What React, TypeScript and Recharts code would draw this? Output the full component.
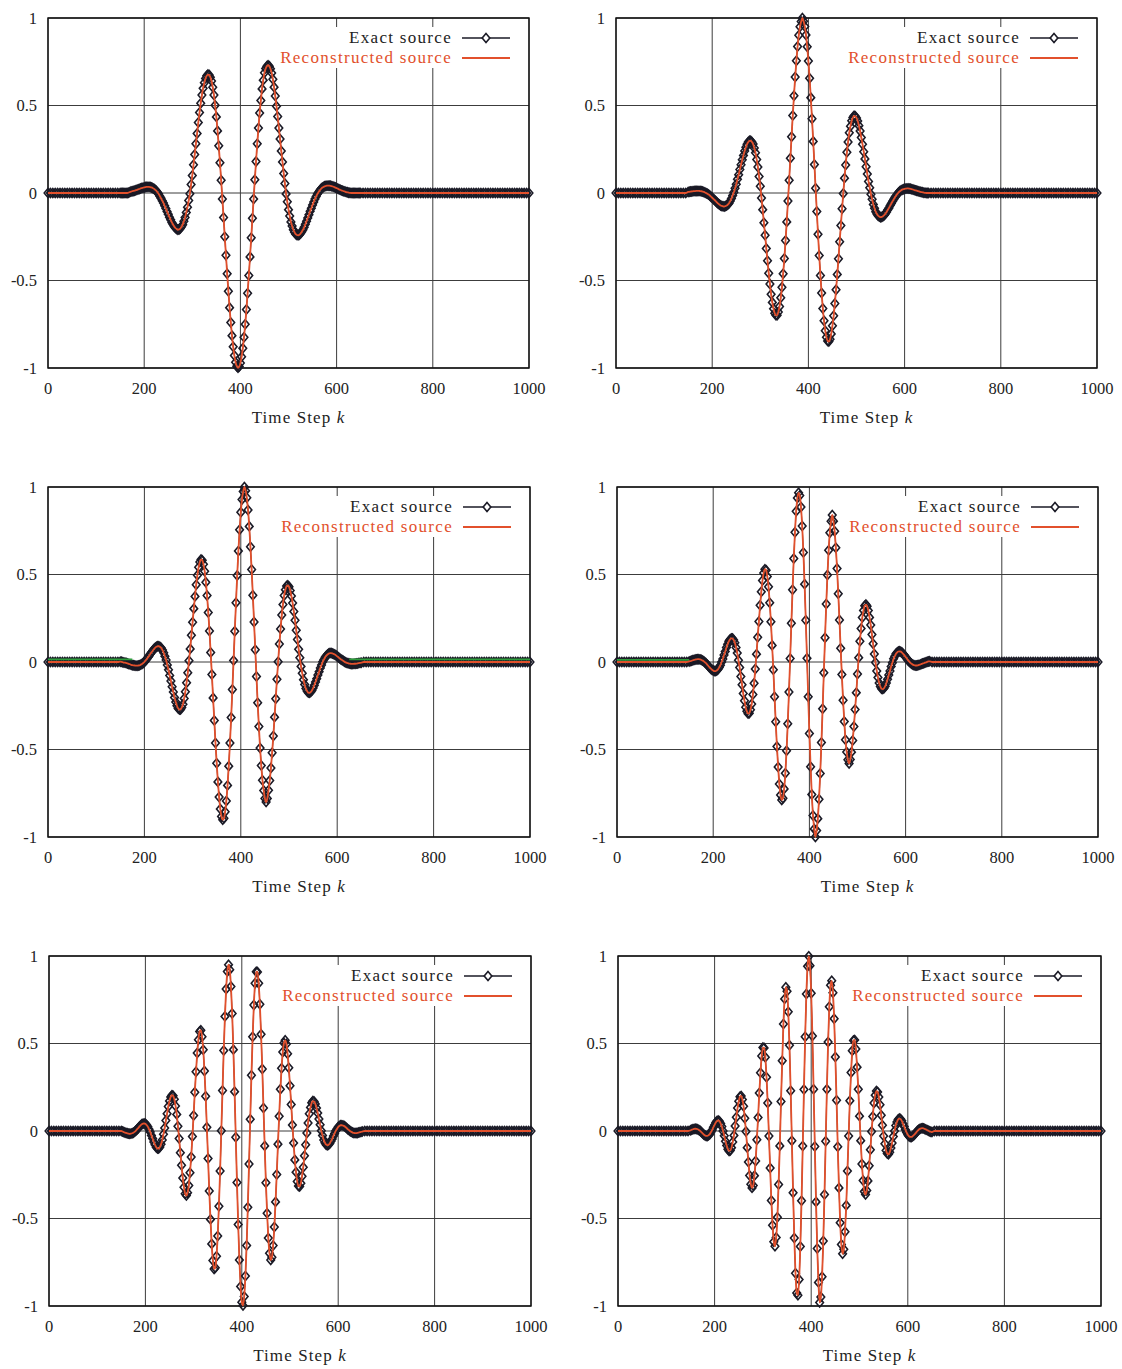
import {
  CartesianGrid,
  Line,
  LineChart,
  ReferenceArea,
  XAxis,
  YAxis,
} from "recharts";

const xTicks = [0, 200, 400, 600, 800, 1000];
const yTicks = [-1, -0.5, 0, 0.5, 1];

// flat stretches, sampled every 5 steps: k = 0 .. 145 and k = 655 .. 1000
const quietBefore = [
  0, 0, 0, 0, 0, 0, 0, 0, 0, 0,
  0, 0, 0, 0, 0, 0, 0, 0, 0, 0,
  0, 0, 0, 0, 0, 0, 0, 0, 0, 0,
];
const quietAfter = [
  0, 0, 0, 0, 0, 0, 0, 0, 0, 0,
  0, 0, 0, 0, 0, 0, 0, 0, 0, 0,
  0, 0, 0, 0, 0, 0, 0, 0, 0, 0,
  0, 0, 0, 0, 0, 0, 0, 0, 0, 0,
  0, 0, 0, 0, 0, 0, 0, 0, 0, 0,
  0, 0, 0, 0, 0, 0, 0, 0, 0, 0,
  0, 0, 0, 0, 0, 0, 0, 0, 0, 0,
];

// active part of each source, read every 2.5 steps: k = 150 .. 650
const wave1 = [
  0, 0, 0, 0, 0, 0, 0, 0.002, 0.005, 0.008,
  0.01, 0.012, 0.013, 0.016, 0.018, 0.021, 0.023, 0.026, 0.028, 0.03,
  0.032, 0.034, 0.035, 0.035, 0.035, 0.034, 0.032, 0.029, 0.025, 0.019,
  0.013, 0.004, -0.005, -0.018, -0.03, -0.044, -0.057, -0.073, -0.088, -0.106,
  -0.122, -0.138, -0.153, -0.168, -0.18, -0.191, -0.2, -0.206, -0.21, -0.208,
  -0.203, -0.193, -0.181, -0.162, -0.14, -0.111, -0.081, -0.043, -0.004, 0.048,
  0.1, 0.161, 0.22, 0.282, 0.34, 0.403, 0.46, 0.513, 0.56, 0.599,
  0.63, 0.655, 0.67, 0.677, 0.675, 0.662, 0.64, 0.604, 0.56, 0.501,
  0.435, 0.355, 0.27, 0.173, 0.073, -0.034, -0.14, -0.25, -0.356, -0.462,
  -0.561, -0.655, -0.74, -0.815, -0.878, -0.929, -0.967, -0.99, -0.999, -0.992,
  -0.972, -0.936, -0.887, -0.824, -0.75, -0.666, -0.573, -0.472, -0.365, -0.256,
  -0.144, -0.034, 0.076, 0.18, 0.281, 0.372, 0.457, 0.529, 0.595, 0.645,
  0.687, 0.711, 0.725, 0.73, 0.725, 0.71, 0.686, 0.65, 0.605, 0.554,
  0.496, 0.437, 0.372, 0.308, 0.24, 0.177, 0.112, 0.054, -0.005, -0.05,
  -0.095, -0.131, -0.165, -0.189, -0.21, -0.224, -0.235, -0.24, -0.242, -0.239,
  -0.232, -0.222, -0.21, -0.196, -0.179, -0.162, -0.143, -0.124, -0.104, -0.087,
  -0.068, -0.051, -0.034, -0.02, -0.006, 0.005, 0.015, 0.023, 0.03, 0.034,
  0.038, 0.04, 0.042, 0.042, 0.042, 0.041, 0.039, 0.037, 0.034, 0.031,
  0.028, 0.025, 0.021, 0.018, 0.015, 0.013, 0.01, 0.008, 0.005, 0.004,
  0.002, 0.001, 0, 0, 0, 0, 0, 0, 0, 0,
  0,
];

const wave2 = [
  0.006, 0.007, 0.008, 0.009, 0.01, 0.011, 0.011, 0.012, 0.012, 0.012,
  0.011, 0.01, 0.008, 0.006, 0.003, -0.001, -0.004, -0.009, -0.014, -0.021,
  -0.027, -0.034, -0.04, -0.047, -0.054, -0.061, -0.066, -0.071, -0.074, -0.076,
  -0.077, -0.075, -0.072, -0.066, -0.058, -0.046, -0.032, -0.014, 0.004, 0.027,
  0.05, 0.078, 0.104, 0.134, 0.161, 0.19, 0.215, 0.24, 0.261, 0.279,
  0.291, 0.298, 0.299, 0.292, 0.28, 0.257, 0.23, 0.191, 0.148, 0.094,
  0.038, -0.029, -0.095, -0.17, -0.241, -0.317, -0.387, -0.458, -0.52, -0.578,
  -0.625, -0.662, -0.687, -0.699, -0.698, -0.68, -0.648, -0.599, -0.539, -0.461,
  -0.374, -0.272, -0.165, -0.046, 0.073, 0.199, 0.321, 0.443, 0.556, 0.663,
  0.756, 0.837, 0.902, 0.95, 0.98, 1.0, 0.981, 0.951, 0.903, 0.836,
  0.754, 0.656, 0.545, 0.424, 0.295, 0.163, 0.027, -0.106, -0.236, -0.357,
  -0.472, -0.571, -0.66, -0.73, -0.787, -0.824, -0.846, -0.849, -0.835, -0.805,
  -0.759, -0.702, -0.631, -0.553, -0.465, -0.376, -0.279, -0.186, -0.09, -0.003,
  0.085, 0.16, 0.233, 0.291, 0.344, 0.382, 0.413, 0.431, 0.441, 0.439,
  0.429, 0.411, 0.385, 0.354, 0.317, 0.279, 0.236, 0.195, 0.15, 0.109,
  0.066, 0.03, -0.007, -0.036, -0.065, -0.087, -0.107, -0.12, -0.13, -0.135,
  -0.138, -0.137, -0.133, -0.127, -0.118, -0.108, -0.096, -0.085, -0.072, -0.06,
  -0.047, -0.036, -0.024, -0.015, -0.005, 0.003, 0.01, 0.015, 0.019, 0.022,
  0.024, 0.025, 0.026, 0.026, 0.025, 0.024, 0.022, 0.02, 0.017, 0.015,
  0.013, 0.011, 0.009, 0.007, 0.005, 0.004, 0.002, 0.001, 0, 0,
  0,
];

const wave3 = [
  0.002, 0.001, -0.001, -0.003, -0.004, -0.006, -0.008, -0.011, -0.013, -0.016,
  -0.018, -0.019, -0.02, -0.021, -0.021, -0.02, -0.019, -0.015, -0.011, -0.006,
  0, 0.009, 0.017, 0.027, 0.036, 0.047, 0.056, 0.066, 0.074, 0.082,
  0.087, 0.09, 0.09, 0.086, 0.08, 0.068, 0.053, 0.033, 0.011, -0.017,
  -0.044, -0.077, -0.108, -0.142, -0.172, -0.203, -0.228, -0.25, -0.265, -0.272,
  -0.271, -0.26, -0.241, -0.209, -0.17, -0.118, -0.062, 0.007, 0.075, 0.153,
  0.227, 0.305, 0.375, 0.442, 0.496, 0.542, 0.572, 0.586, 0.582, 0.559,
  0.519, 0.456, 0.38, 0.283, 0.177, 0.054, -0.071, -0.205, -0.334, -0.463,
  -0.578, -0.685, -0.772, -0.84, -0.883, -0.901, -0.893, -0.856, -0.794, -0.705,
  -0.595, -0.463, -0.317, -0.157, 0.008, 0.176, 0.339, 0.494, 0.634, 0.756,
  0.856, 0.929, 0.975, 1.0, 0.979, 0.938, 0.869, 0.775, 0.659, 0.528,
  0.381, 0.229, 0.07, -0.083, -0.233, -0.368, -0.492, -0.592, -0.676, -0.734,
  -0.78, -0.8, -0.78, -0.733, -0.677, -0.606, -0.518, -0.423, -0.315, -0.21,
  -0.099, 0.002, 0.103, 0.188, 0.268, 0.329, 0.38, 0.413, 0.434, 0.438,
  0.43, 0.409, 0.377, 0.337, 0.288, 0.238, 0.182, 0.129, 0.073, 0.024,
  -0.025, -0.064, -0.102, -0.129, -0.152, -0.166, -0.175, -0.176, -0.172, -0.163,
  -0.149, -0.133, -0.114, -0.095, -0.074, -0.055, -0.034, -0.017, 0.001, 0.014,
  0.027, 0.036, 0.043, 0.048, 0.051, 0.051, 0.049, 0.046, 0.043, 0.038,
  0.032, 0.027, 0.021, 0.016, 0.011, 0.007, 0.002, -0.002, -0.005, -0.007,
  -0.009, -0.01, -0.011, -0.011, -0.01, -0.01, -0.009, -0.008, -0.006, -0.005,
  -0.004,
];

const wave4 = [
  0.003, 0.005, 0.007, 0.01, 0.012, 0.014, 0.015, 0.016, 0.016, 0.015,
  0.013, 0.009, 0.005, -0.001, -0.007, -0.015, -0.023, -0.031, -0.038, -0.044,
  -0.049, -0.052, -0.052, -0.048, -0.042, -0.031, -0.018, 0, 0.017, 0.04,
  0.06, 0.083, 0.101, 0.118, 0.129, 0.135, 0.135, 0.126, 0.11, 0.083,
  0.052, 0.01, -0.032, -0.083, -0.13, -0.18, -0.221, -0.258, -0.282, -0.295,
  -0.293, -0.273, -0.24, -0.186, -0.122, -0.04, 0.045, 0.142, 0.232, 0.324,
  0.401, 0.466, 0.509, 0.53, 0.525, 0.489, 0.43, 0.338, 0.23, 0.095,
  -0.044, -0.198, -0.342, -0.483, -0.6, -0.697, -0.76, -0.788, -0.778, -0.725,
  -0.636, -0.507, -0.353, -0.171, 0.02, 0.222, 0.413, 0.592, 0.742, 0.861,
  0.937, 0.967, 0.951, 0.886, 0.777, 0.626, 0.445, 0.239, 0.021, -0.199,
  -0.409, -0.598, -0.757, -0.877, -0.954, -1.0, -0.963, -0.895, -0.784, -0.637,
  -0.46, -0.267, -0.061, 0.138, 0.331, 0.497, 0.638, 0.739, 0.804, 0.84,
  0.805, 0.747, 0.653, 0.534, 0.39, 0.24, 0.078, -0.072, -0.219, -0.34,
  -0.444, -0.514, -0.559, -0.58, -0.557, -0.515, -0.449, -0.369, -0.272, -0.175,
  -0.069, 0.025, 0.118, 0.191, 0.254, 0.295, 0.322, 0.328, 0.318, 0.294,
  0.255, 0.211, 0.157, 0.104, 0.046, -0.003, -0.051, -0.088, -0.12, -0.14,
  -0.153, -0.155, -0.15, -0.138, -0.12, -0.099, -0.074, -0.051, -0.025, -0.004,
  0.018, 0.033, 0.047, 0.055, 0.06, 0.061, 0.059, 0.054, 0.046, 0.038,
  0.029, 0.02, 0.01, 0.003, -0.005, -0.01, -0.015, -0.018, -0.02, -0.02,
  -0.019, -0.017, -0.015, -0.012, -0.009, -0.007, -0.004, -0.002, 0.001, 0.003,
  0.004,
];

const wave5 = [
  0, -0.003, -0.006, -0.009, -0.011, -0.013, -0.015, -0.016, -0.015, -0.013,
  -0.01, -0.005, 0.001, 0.009, 0.016, 0.025, 0.032, 0.038, 0.042, 0.043,
  0.041, 0.034, 0.025, 0.01, -0.005, -0.025, -0.043, -0.063, -0.079, -0.093,
  -0.1, -0.1, -0.092, -0.075, -0.052, -0.018, 0.017, 0.06, 0.099, 0.14,
  0.171, 0.195, 0.205, 0.201, 0.182, 0.143, 0.095, 0.027, -0.043, -0.124,
  -0.196, -0.268, -0.321, -0.358, -0.369, -0.353, -0.312, -0.238, -0.148, -0.031,
  0.089, 0.221, 0.338, 0.446, 0.522, 0.569, 0.576, 0.539, 0.464, 0.343,
  0.199, 0.022, -0.157, -0.343, -0.505, -0.645, -0.74, -0.788, -0.782, -0.716,
  -0.6, -0.43, -0.229, 0.002, 0.232, 0.46, 0.655, 0.812, 0.912, 0.95,
  0.922, 0.826, 0.672, 0.465, 0.225, -0.036, -0.294, -0.534, -0.737, -0.889,
  -0.978, -0.997, -0.946, -0.829, -0.654, -0.436, -0.188, 0.067, 0.318, 0.538,
  0.72, 0.844, 0.91, 0.909, 0.844, 0.724, 0.553, 0.354, 0.131, -0.085,
  -0.296, -0.47, -0.612, -0.699, -0.737, -0.721, -0.654, -0.549, -0.405, -0.249,
  -0.075, 0.084, 0.238, 0.358, 0.452, 0.503, 0.518, 0.497, 0.441, 0.362,
  0.258, 0.151, 0.034, -0.068, -0.165, -0.235, -0.289, -0.314, -0.317, -0.298,
  -0.258, -0.207, -0.142, -0.079, -0.011, 0.046, 0.099, 0.135, 0.161, 0.171,
  0.169, 0.155, 0.131, 0.103, 0.068, 0.036, 0.001, -0.026, -0.051, -0.067,
  -0.078, -0.081, -0.078, -0.071, -0.058, -0.045, -0.028, -0.014, 0.001, 0.012,
  0.023, 0.029, 0.033, 0.033, 0.031, 0.028, 0.023, 0.017, 0.01, 0.005,
  -0.001, -0.005, -0.009, -0.011, -0.012, -0.012, -0.011, -0.009, -0.007, -0.005,
  -0.003,
];

const wave6 = [
  0.004, 0.007, 0.01, 0.012, 0.013, 0.012, 0.01, 0.006, 0.001, -0.006,
  -0.013, -0.02, -0.025, -0.028, -0.028, -0.024, -0.018, -0.006, 0.006, 0.022,
  0.035, 0.049, 0.057, 0.06, 0.056, 0.043, 0.026, 0, -0.027, -0.058,
  -0.083, -0.104, -0.114, -0.111, -0.095, -0.063, -0.025, 0.028, 0.078, 0.131,
  0.17, 0.196, 0.2, 0.18, 0.141, 0.073, -0.003, -0.095, -0.177, -0.254,
  -0.304, -0.325, -0.311, -0.255, -0.171, -0.05, 0.077, 0.217, 0.333, 0.428,
  0.477, 0.475, 0.421, 0.307, 0.16, -0.028, -0.212, -0.397, -0.538, -0.633,
  -0.659, -0.609, -0.493, -0.306, -0.085, 0.168, 0.402, 0.612, 0.755, 0.822,
  0.799, 0.682, 0.49, 0.23, -0.056, -0.353, -0.612, -0.813, -0.926, -0.939,
  -0.849, -0.66, -0.399, -0.086, 0.237, 0.539, 0.783, 0.942, 0.999, 0.945,
  0.787, 0.543, 0.239, -0.088, -0.405, -0.671, -0.865, -0.98, -0.948, -0.833,
  -0.628, -0.363, -0.058, 0.239, 0.509, 0.71, 0.833, 0.858, 0.79, 0.642,
  0.423, 0.176, -0.09, -0.325, -0.524, -0.649, -0.702, -0.676, -0.576, -0.425,
  -0.228, -0.029, 0.173, 0.334, 0.458, 0.517, 0.52, 0.468, 0.365, 0.238,
  0.085, -0.055, -0.189, -0.283, -0.346, -0.363, -0.34, -0.285, -0.199, -0.107,
  -0.003, 0.083, 0.16, 0.205, 0.228, 0.223, 0.194, 0.15, 0.09, 0.033,
  -0.028, -0.073, -0.111, -0.129, -0.133, -0.122, -0.097, -0.068, -0.032, 0,
  0.031, 0.051, 0.066, 0.071, 0.068, 0.058, 0.042, 0.026, 0.007, -0.008,
  -0.022, -0.03, -0.034, -0.034, -0.03, -0.024, -0.016, -0.008, 0.001, 0.007,
  0.012, 0.015, 0.016, 0.015, 0.012, 0.009, 0.005, 0.002, -0.002, -0.004,
  -0.006,
];

// faint green trace seen in the flat parts of panels 3 and 4: [from k, to k, level]
const green3 = [
  [0, 175, 0.015],
  [625, 1000, 0.015],
];
const green4 = [[0, 150, 0.012]];

const RED = "#e2502c";
const INK = "#1a1a26";
const GREEN = "#2e9e3c";
const FONT = "'Liberation Serif', 'Times New Roman', serif";
const PLOT_H = 350;

type PanelCfg = {
  values: number[];
  left: number;
  top: number;
  width: number;
  green?: number[][];
};

const panels: PanelCfg[] = [
  { values: wave1, left: 48, top: 18, width: 481 },
  { values: wave2, left: 616, top: 18, width: 481 },
  { values: wave3, left: 48, top: 487, width: 482, green: green3 },
  { values: wave4, left: 617, top: 487, width: 481, green: green4 },
  { values: wave5, left: 49, top: 956, width: 482 },
  { values: wave6, left: 618, top: 956, width: 483 },
];

const renderDiamond = (props: any) => {
  const { cx, cy, index } = props;
  if (cx == null || cy == null) return <g key={`d-${index}`} />;
  return (
    <path
      key={`d-${index}`}
      d={`M${cx},${cy - 4.5}L${cx + 3.8},${cy}L${cx},${cy + 4.5}L${cx - 3.8},${cy}Z`}
      fill="none"
      stroke={INK}
      strokeWidth={1.6}
    />
  );
};

const tickStyle = { fontFamily: FONT, fontSize: 16.5, fill: "#222" };

function Panel({ cfg }: { cfg: PanelCfg }) {
  const data = [
    ...quietBefore.map((v, i) => ({ k: i * 5, v })),
    ...cfg.values.map((v, i) => ({ k: 150 + i * 2.5, v })),
    ...quietAfter.map((v, i) => ({ k: 655 + i * 5, v })),
  ].map((d) => {
    const seg = cfg.green?.find((g) => d.k >= g[0] && d.k <= g[1]);
    return {
      k: d.k,
      exact: d.v,
      reconstructed: d.v,
      green: seg ? seg[2] : null,
    };
  });
  const W = 48 + cfg.width + 24;
  const H = 18 + PLOT_H + 34;
  const plotRight = 48 + cfg.width;

  return (
    <div
      style={{
        position: "absolute",
        left: cfg.left - 48,
        top: cfg.top - 18,
        width: W,
        height: H + 40,
      }}
    >
      <LineChart
        width={W}
        height={H}
        data={data}
        margin={{ top: 18, right: 24, bottom: 0, left: 8 }}
      >
        <CartesianGrid stroke="#3c3c3c" strokeWidth={1} />
        <XAxis
          type="number"
          dataKey="k"
          domain={[0, 1000]}
          ticks={xTicks}
          interval={0}
          tickLine={false}
          axisLine={false}
          tickMargin={8}
          height={34}
          tick={tickStyle}
        />
        <YAxis
          type="number"
          domain={[-1, 1]}
          ticks={yTicks}
          interval={0}
          tickLine={false}
          axisLine={false}
          tickMargin={5}
          width={40}
          tick={tickStyle}
        />
        <ReferenceArea
          x1={0}
          x2={1000}
          y1={-1}
          y2={1}
          fill="none"
          stroke="#111"
          strokeWidth={1.4}
        />
        <Line
          type="linear"
          dataKey="exact"
          stroke={INK}
          strokeWidth={1}
          dot={renderDiamond}
          activeDot={false}
          isAnimationActive={false}
        />
      </LineChart>

      {/* second layer so the reconstructed curve sits above the markers */}
      <div style={{ position: "absolute", left: 0, top: 0, pointerEvents: "none" }}>
        <LineChart
          width={W}
          height={H}
          data={data}
          margin={{ top: 18, right: 24, bottom: 34, left: 48 }}
        >
          <XAxis type="number" dataKey="k" domain={[0, 1000]} hide />
          <YAxis type="number" domain={[-1, 1]} hide />
          {cfg.green && (
            <Line
              type="linear"
              dataKey="green"
              stroke={GREEN}
              strokeWidth={1.6}
              dot={false}
              activeDot={false}
              connectNulls={false}
              isAnimationActive={false}
            />
          )}
          <Line
            type="monotone"
            dataKey="reconstructed"
            stroke={RED}
            strokeWidth={1.8}
            dot={false}
            activeDot={false}
            isAnimationActive={false}
          />
        </LineChart>
      </div>

      {/* key box */}
      <div
        style={{
          position: "absolute",
          left: plotRight - 247,
          top: 18 + 9,
          width: 236,
          height: 41,
          background: "#fff",
        }}
      />
      <div
        style={{
          position: "absolute",
          right: W - (plotRight - 77),
          top: 18 + 10,
          fontFamily: FONT,
          fontSize: 17,
          letterSpacing: 1.3,
          lineHeight: "20px",
          textAlign: "right",
          whiteSpace: "nowrap",
        }}
      >
        <div style={{ color: "#222" }}>Exact source</div>
        <div style={{ color: RED }}>Reconstructed source</div>
      </div>
      <svg
        style={{ position: "absolute", left: plotRight - 67, top: 18 + 10 }}
        width={50}
        height={40}
      >
        <line x1={0} y1={10} x2={48} y2={10} stroke={INK} strokeWidth={1.3} />
        <path d="M24,5.5L27.8,10L24,14.5L20.2,10Z" fill="#fff" stroke={INK} strokeWidth={1.6} />
        <line x1={0} y1={30} x2={48} y2={30} stroke={RED} strokeWidth={1.8} />
      </svg>

      {/* x axis title */}
      <div
        style={{
          position: "absolute",
          left: 48 + 10,
          width: cfg.width,
          top: 18 + PLOT_H + 40,
          textAlign: "center",
          fontFamily: FONT,
          fontSize: 17,
          letterSpacing: 1.1,
          lineHeight: "20px",
          color: "#222",
          whiteSpace: "nowrap",
        }}
      >
        Time Step <i>k</i>
      </div>
    </div>
  );
}

export default function App() {
  return (
    <div
      style={{
        position: "absolute",
        left: 0,
        top: 0,
        width: 1122,
        height: 1369,
        background: "#fff",
      }}
    >
      {panels.map((p, i) => (
        <Panel key={i} cfg={p} />
      ))}
    </div>
  );
}
